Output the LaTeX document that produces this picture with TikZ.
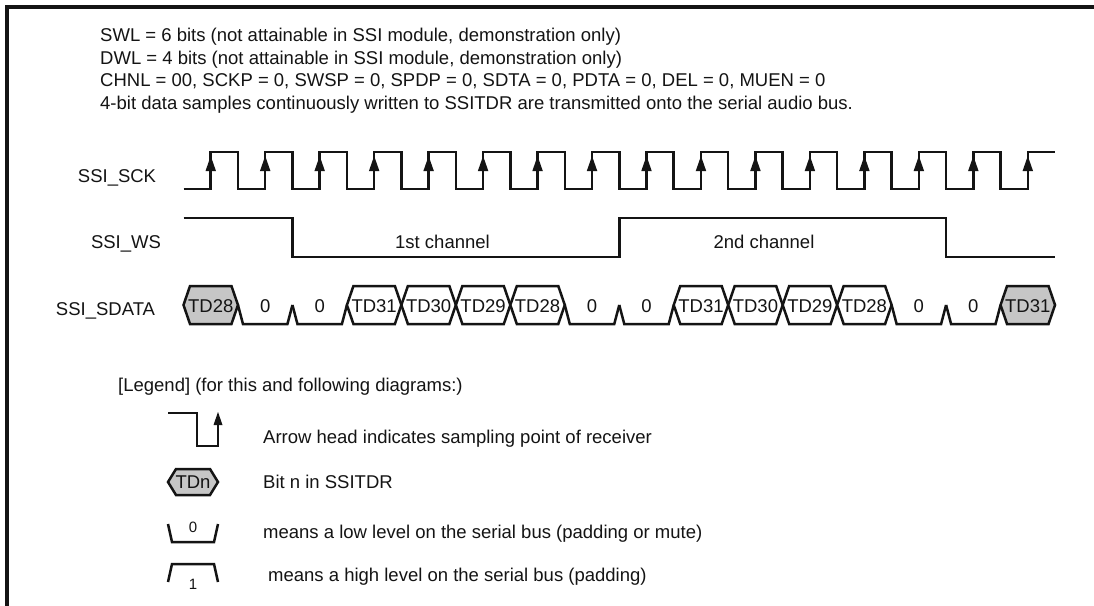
\documentclass[tikz,border=0pt]{standalone}
\usepackage{fontspec}
\setmainfont{Liberation Sans}
\definecolor{hexgray}{RGB}{198,198,198}
\definecolor{ink}{RGB}{20,20,20}
\begin{document}
\begin{tikzpicture}[x=1pt,y=-1pt,
  sig/.style={line width=2.5pt, line join=miter, draw=ink},
  txt/.style={inner sep=0pt, text=ink, font=\fontsize{18.5}{21}\selectfont},
  small/.style={inner sep=0pt, text=ink, font=\fontsize{15}{17}\selectfont},
  tip/.style={fill=ink}]
\useasboundingbox (0,0) rectangle (1094,605);
\fill[white] (0,0) rectangle (1094,605);
% frame
\draw[line width=3.2pt, draw=ink] (7,606) -- (7,7) -- (1095,7);
% header
\node[txt,anchor=base west] (h1) at (100,41.5) {SWL = 6 bits (not attainable in SSI module, demonstration only)};
\node[txt,anchor=base west] (h2) at (100,64.2) {DWL = 4 bits (not attainable in SSI module, demonstration only)};
\node[txt,anchor=base west] (h3) at (100,86.9) {CHNL = 00, SCKP = 0, SWSP = 0, SPDP = 0, SDTA = 0, PDTA = 0, DEL = 0, MUEN = 0};
\node[txt,anchor=base west] (h4) at (100,109.6) {4-bit data samples continuously written to SSITDR are transmitted onto the serial audio bus.};
% signal names
\node[txt,anchor=base] (lsck) at (117,182) {SSI\_SCK};
\node[txt,anchor=base] (lws) at (126,248) {SSI\_WS};
\node[txt,anchor=base] (lsd) at (105.5,315) {SSI\_SDATA};
% SCK
\draw[sig] (183.5,189) foreach \k in {0,...,15} {
  -- ({183.5+54.47*\k},189) -- ({210.74+54.47*\k},189) -- ({210.74+54.47*\k},152) -- ({237.97+54.47*\k},152) };
\foreach \k in {0,...,15} {
  \fill[tip] ({210.74+54.47*\k},156) -- ({205.5+54.47*\k},171) -- ({215.98+54.47*\k},171) -- cycle;
}
% WS
\draw[sig] (183.5,218) -- (292.4,218) -- (292.4,257) -- (619.3,257) -- (619.3,218) -- (946.1,218) -- (946.1,257) -- (1055,257);
\node[txt,anchor=base] (ch1) at (442.5,248) {1st channel};
\node[txt,anchor=base] (ch2) at (764,248) {2nd channel};
% SDATA
\foreach \k/\t/\s in {0/TD28/g,1/0/z,2/0/z,3/TD31/w,4/TD30/w,5/TD29/w,6/TD28/w,7/0/z,8/0/z,9/TD31/w,10/TD30/w,11/TD29/w,12/TD28/w,13/0/z,14/0/z,15/TD31/g} {
  \pgfmathsetmacro\a{183.5+54.47*\k}
  \pgfmathsetmacro\b{\a+54.47}
  \pgfmathsetmacro\c{\a+27.235}
  \if\s z
    \draw[sig] (\a,305) -- (\a+5,324) -- (\b-5,324) -- (\b,305);
  \else
    \if\s g \def\fc{hexgray}\else\def\fc{white}\fi
    \filldraw[sig, fill=\fc] (\a,305) -- (\a+6.5,286) -- (\b-6.5,286) -- (\b,305) -- (\b-6.5,324) -- (\a+6.5,324) -- cycle;
  \fi
  \node[txt,anchor=base] (d\k) at (\c,312) {\t};
}
% legend
\node[txt,anchor=base west] (lg) at (118,391) {[Legend] (for this and following diagrams:)};
\draw[sig] (168,413) -- (197,413) -- (197,446) -- (218,446) -- (218,422);
\fill[tip] (218,412) -- (213.5,425) -- (222.5,425) -- cycle;
\node[txt,anchor=base west] (t1) at (263,443) {Arrow head indicates sampling point of receiver};
\filldraw[sig, fill=hexgray] (168,482) -- (176,469) -- (210,469) -- (218,482) -- (210,495) -- (176,495) -- cycle;
\node[txt,anchor=base] (tdn) at (193,488.5) {TDn};
\node[txt,anchor=base west] (t2) at (263,488.5) {Bit n in SSITDR};
\draw[sig] (168,524) -- (172,542) -- (214,542) -- (218,524);
\node[small,anchor=base] (z0) at (193,532) {0};
\node[txt,anchor=base west] (t3) at (263,538.5) {means a low level on the serial bus (padding or mute)};
\draw[sig] (168,582) -- (172,564) -- (214,564) -- (218,582);
\node[small,anchor=base] (o1) at (193,589) {1};
\node[txt,anchor=base west] (t4) at (268,581.5) {means a high level on the serial bus (padding)};
\end{tikzpicture}
\end{document}
